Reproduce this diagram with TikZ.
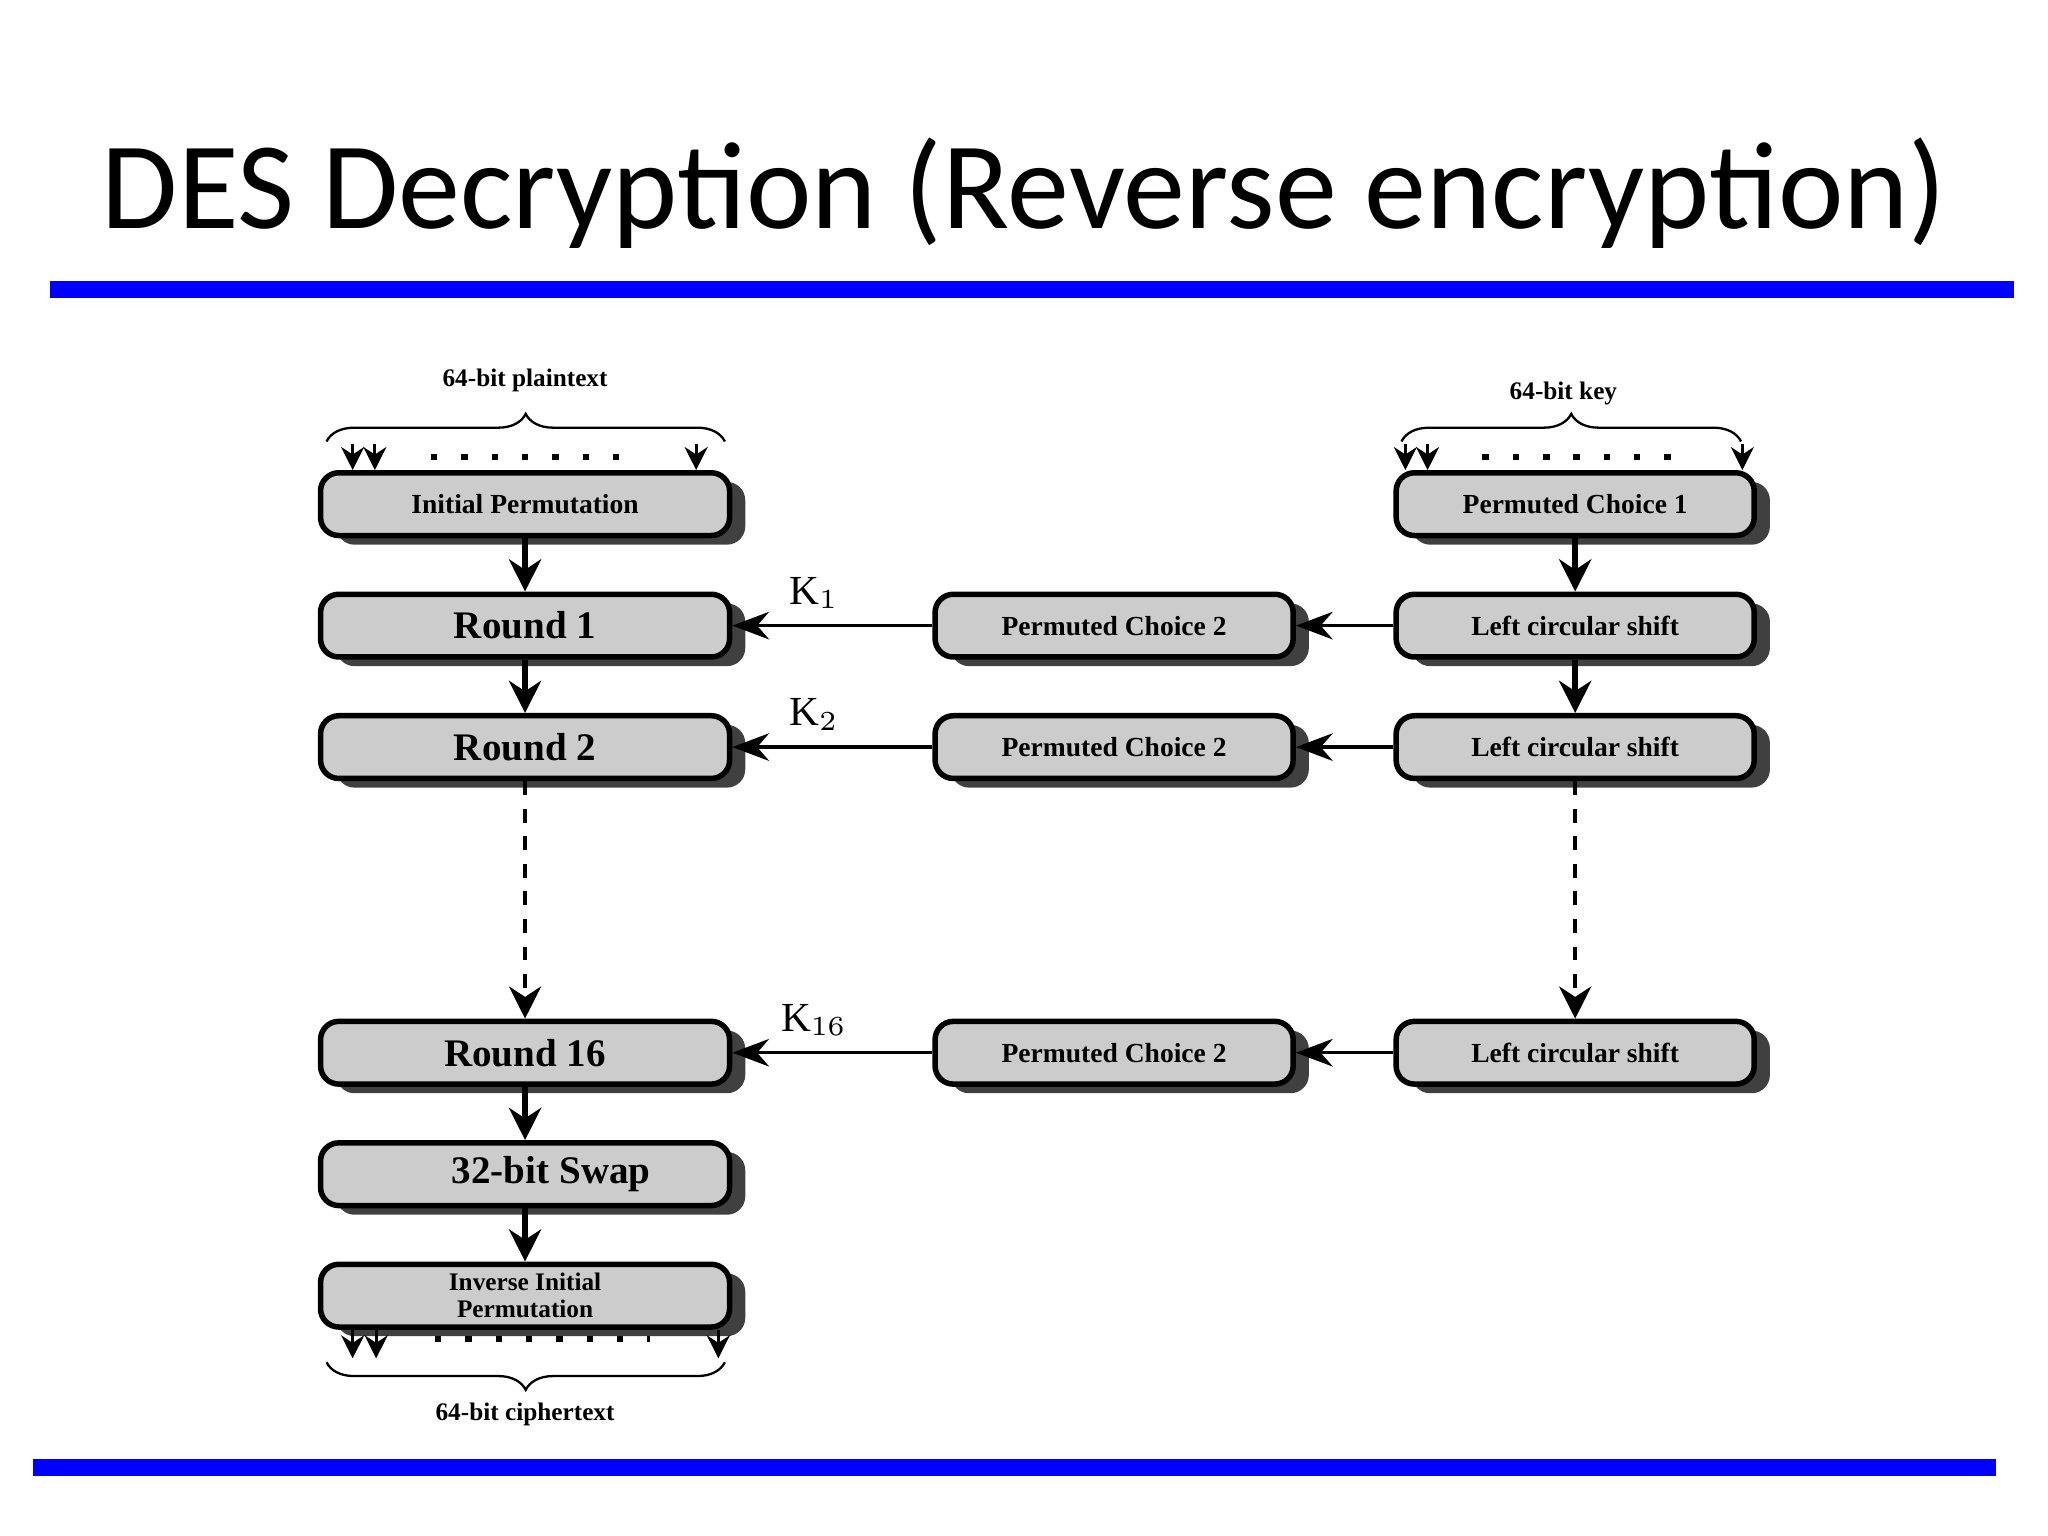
\documentclass[tikz,border=0pt]{standalone}
\usepackage{fontspec}
\setmainfont{Liberation Serif}
\newfontfamily\titlefont{Carlito}
\usetikzlibrary{shadows,arrows.meta,decorations.pathreplacing}
\begin{document}
\begin{tikzpicture}[x=0.01cm,y=-0.01cm,
  box/.style={draw=black,line width=1.2pt,fill=gray!40,rounded corners=0.14cm,
    minimum height=0.48cm,inner sep=0pt,font=\bfseries\fontsize{6}{6.5}\selectfont,
    drop shadow={shadow xshift=0.12cm,shadow yshift=-0.07cm,fill=black!75,opacity=1}},
  lbox/.style={box,minimum width=3.13cm},
  rbox/.style={box,minimum width=2.74cm},
  big/.style={font=\bfseries\fontsize{8.5}{9}\selectfont},
  varr/.style={line width=1.2pt,-{Stealth[length=7pt,width=7pt]}},
  harr/.style={line width=0.7pt,-{Stealth[length=8pt,width=6pt]}},
  sarr/.style={line width=0.7pt,-{Stealth[length=5pt,width=5pt]}},
  dots/.style={line width=1.4pt,dash pattern=on 1.4pt off 5.2pt},
  brc/.style={decorate,decoration={brace,amplitude=6pt},line width=0.5pt},
  lab/.style={font=\bfseries\fontsize{5.5}{6}\selectfont}]
\useasboundingbox (0,0) rectangle (1568,1176);
\node[font=\titlefont\fontsize{27}{30}\selectfont] (title) at (784,148) {DES Decryption (Reverse encryption)};
\fill[blue] (38,215) rectangle (1542,228);
\fill[blue] (25,1117) rectangle (1528,1130);
% left column
\node[lbox] (ip) at (402,386) {Initial Permutation};
\node[lbox,big] (r1) at (402,479) {Round 1};
\node[lbox,big] (r2) at (402,572) {Round 2};
\node[lbox,big] (r16) at (402,806) {Round 16};
\node[lbox,big] (sw) at (402,899) {\hspace{0.4cm}32-bit Swap};
\node[lbox,align=center,font=\bfseries\fontsize{5.5}{5.8}\selectfont] (iip) at (402,992) {Inverse Initial\\Permutation};
% middle
\node[rbox] (pc2a) at (853,479) {Permuted Choice 2};
\node[rbox] (pc2b) at (853,572) {Permuted Choice 2};
\node[rbox] (pc2c) at (853,806) {Permuted Choice 2};
% right
\node[rbox] (pc1) at (1206,386) {Permuted Choice 1};
\node[rbox] (ls1) at (1206,479) {Left circular shift};
\node[rbox] (ls2) at (1206,572) {Left circular shift};
\node[rbox] (ls16) at (1206,806) {Left circular shift};
% vertical arrows
\draw[varr] (ip) -- (r1);
\draw[varr] (r1) -- (r2);
\draw[varr,dashed,line width=0.8pt] (r2) -- (r16);
\draw[varr] (r16) -- (sw);
\draw[varr] (sw) -- (iip);
\draw[varr] (pc1) -- (ls1);
\draw[varr] (ls1) -- (ls2);
\draw[varr,dashed,line width=0.8pt] (ls2) -- (ls16);
% horizontal
\draw[harr] (ls1) -- (pc2a);
\draw[harr] (ls2) -- (pc2b);
\draw[harr] (ls16) -- (pc2c);
\draw[harr] (pc2a) -- node[above,pos=0.5,font=\fontsize{9}{9}\selectfont,xshift=-4pt] {K$_1$} (r1);
\draw[harr] (pc2b) -- node[above,pos=0.5,font=\fontsize{9}{9}\selectfont,xshift=-4pt] {K$_2$} (r2);
\draw[harr] (pc2c) -- node[above,pos=0.5,font=\fontsize{9}{9}\selectfont,xshift=-4pt] {K$_{16}$} (r16);
% top plaintext
\coordinate (a1) at (270,340); \coordinate (a2) at (287,340); \coordinate (a3) at (533,340);
\draw[sarr] (a1) -- (a1 |- ip.north);
\draw[sarr] (a2) -- (a2 |- ip.north);
\draw[sarr] (a3) -- (a3 |- ip.north);
\draw[dots] (330,350) -- (488,350);
\coordinate (b1) at (250,338); \coordinate (b2) at (555,338);
\draw[brc] (b1) -- (b2);
\node[lab] (pt) at (402,291) {64-bit plaintext};
% key
\coordinate (c1) at (1076,340); \coordinate (c2) at (1093,340); \coordinate (c3) at (1334,340);
\draw[sarr] (c1) -- (c1 |- pc1.north);
\draw[sarr] (c2) -- (c2 |- pc1.north);
\draw[sarr] (c3) -- (c3 |- pc1.north);
\draw[dots] (1135,350) -- (1290,350);
\coordinate (d1) at (1073,338); \coordinate (d2) at (1333,338);
\draw[brc] (d1) -- (d2);
\node[lab] (key) at (1197,301) {64-bit key};
% bottom
\coordinate (e1) at (270,1040); \coordinate (e2) at (288,1040); \coordinate (e3) at (550,1040);
\draw[sarr] (e1 |- iip.south) -- (e1);
\draw[sarr] (e2 |- iip.south) -- (e2);
\draw[sarr] (e3 |- iip.south) -- (e3);
\draw[dots] (333,1025) -- (498,1025);
\coordinate (f1) at (555,1043); \coordinate (f2) at (250,1043);
\draw[brc] (f1) -- (f2);
\node[lab] (ct) at (402,1083) {64-bit ciphertext};
\end{tikzpicture}
\end{document}
